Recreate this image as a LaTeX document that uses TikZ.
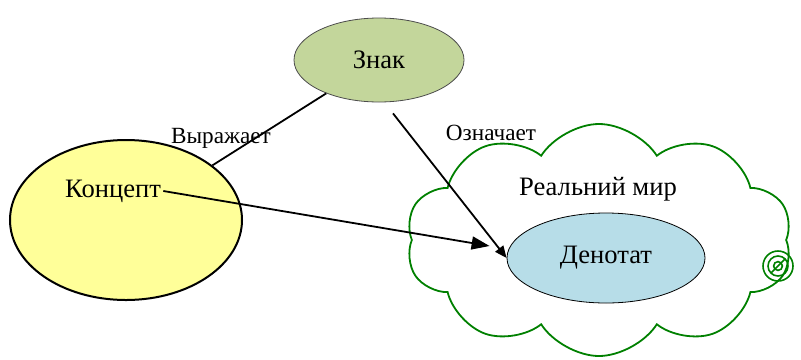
\documentclass[tikz,border=0pt]{standalone}
\usepackage{fontspec}
\setmainfont{Liberation Serif}
\usetikzlibrary{calc,positioning,arrows.meta,shapes.geometric,shapes.symbols}
\definecolor{znakgreen}{RGB}{195,214,155}
\definecolor{konceptyellow}{RGB}{255,255,153}
\definecolor{denotatblue}{RGB}{183,221,232}
\definecolor{cloudgreen}{RGB}{0,128,0}

\begin{document}
\begin{tikzpicture}[
  x=0.5pt,y=-0.5pt,
  bigtext/.style={font=\fontsize{13.3}{16}\selectfont,inner sep=1pt},
  smalltext/.style={font=\fontsize{11.6}{14}\selectfont,inner sep=1pt},
  oval/.style={ellipse,draw,inner sep=0pt},
  link/.style={line width=0.9pt},
  ]
  \useasboundingbox (0,0) rectangle (801,359);

  % the real world
  \node (world) [cloud,cloud puffs=10,cloud puff arc=115,aspect=1.7,draw=cloudgreen,line width=0.9pt,
    minimum width=193pt,minimum height=116pt] at (599,240) {};
  \foreach \r in {7.5,5,2.2}
    \draw[cloudgreen,line width=0.8pt] (778,266) circle[radius=\r pt];
  \draw[cloudgreen,line width=0.8pt] (771,273) -- (785,259);

  \node (znak) [oval,fill=znakgreen,draw=black!70,line width=0.4pt,minimum width=85pt,minimum height=42pt,bigtext] at (379,60) {Знак};
  \node (koncept) [oval,fill=konceptyellow,line width=1pt,minimum width=116pt,minimum height=80pt] at (126,220) {};
  \node (koncepttext) [bigtext] at (113,191) {Концепт};
  \node (denotat) [oval,fill=denotatblue,line width=0.4pt,minimum width=99pt,minimum height=45pt,bigtext] at (606,258) {Денотат};
  \node (worldtext) [bigtext] at (598,189) {Реальний мир};

  \node (vyr) [smalltext] at (221,138) {Выражает};
  \node (ozn) [smalltext] at (491,133) {Означает};

  \coordinate (signstart) at ($(znak.south)+(14,11)$);
  \coordinate (conceptend) at ($(denotat.west)+(-17,-12)$);

  \draw[link] (znak) -- (koncept);
  \draw[link,-{Triangle[length=9pt,width=6.5pt]}] (koncepttext.east) -- (conceptend);
  \draw[link,-{Triangle[length=6pt,width=5pt]}] (signstart) -- (denotat.west);

\end{tikzpicture}
\end{document}
